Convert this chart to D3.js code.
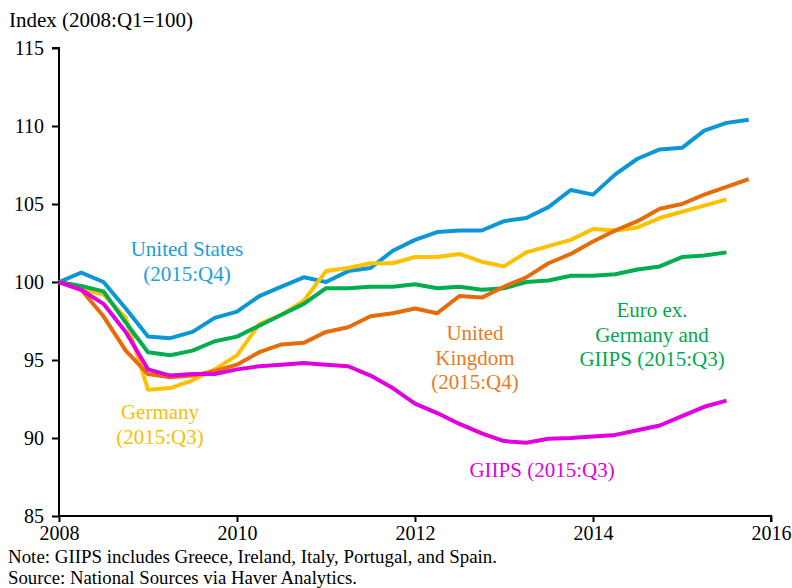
<!DOCTYPE html>
<html>
<head>
<meta charset="utf-8">
<script src="https://cdn.jsdelivr.net/npm/d3@7"></script>
<style>
  body { margin: 0; background: #fff; }
  svg text { font-family: "Times New Roman", "Liberation Serif", "DejaVu Serif", serif; }
</style>
</head>
<body>
<svg id="chart" width="792" height="588"></svg>
<script>
// quarterly data, 2008:Q1 = 100
var startYear = 2008;
var usValues = [100, 100.6, 100.0, 98.3, 96.5, 96.4, 96.8, 97.7, 98.1, 99.1, 99.7, 100.3, 100.0, 100.7, 100.9, 102.0,
  102.7, 103.2, 103.3, 103.3, 103.9, 104.1, 104.8, 105.9, 105.6, 106.9, 107.9, 108.5, 108.6, 109.7, 110.2, 110.4];
var germanyValues = [100, 99.6, 99.2, 97.7, 93.1, 93.2, 93.7, 94.4, 95.3, 97.3, 97.9, 98.8, 100.7, 100.9, 101.2, 101.2,
  101.6, 101.6, 101.8, 101.3, 101.0, 101.9, 102.3, 102.7, 103.4, 103.3, 103.5, 104.1, 104.5, 104.9, 105.3];
var ukValues = [100, 99.5, 97.8, 95.6, 94.1, 93.9, 94.0, 94.3, 94.7, 95.5, 96.0, 96.1, 96.8, 97.1, 97.8, 98.0,
  98.3, 98.0, 99.1, 99.0, 99.7, 100.3, 101.2, 101.8, 102.6, 103.3, 103.9, 104.7, 105.0, 105.6, 106.1, 106.6];
var euroValues = [100, 99.75, 99.4, 97.4, 95.5, 95.3, 95.6, 96.2, 96.5, 97.2, 97.9, 98.6, 99.6, 99.6, 99.7, 99.7,
  99.85, 99.6, 99.7, 99.5, 99.6, 100.0, 100.1, 100.4, 100.4, 100.5, 100.8, 101.0, 101.6, 101.7, 101.9];
var giipsValues = [100, 99.5, 98.6, 96.8, 94.4, 94.0, 94.1, 94.1, 94.4, 94.6, 94.7, 94.8, 94.7, 94.6, 94.0, 93.2,
  92.2, 91.6, 90.9, 90.3, 89.8, 89.7, 89.95, 90.0, 90.1, 90.2, 90.5, 90.8, 91.4, 92.0, 92.4];

var yTicks = [85, 90, 95, 100, 105, 110, 115];
var xTicks = [2008, 2010, 2012, 2014, 2016];

var series = [
  { name: "us", values: usValues, color: "#0b97d6", label: ["United States", "(2015:Q4)"], lx: 187, ly: 256, tcolor: "#1d9ddb" },
  { name: "germany", values: germanyValues, color: "#ffc000", label: ["Germany", "(2015:Q3)"], lx: 160, ly: 419, tcolor: "#f7c000" },
  { name: "euro", values: euroValues, color: "#00ad4f", label: ["Euro ex.", "Germany and", "GIIPS (2015:Q3)"], lx: 652, ly: 317, tcolor: "#00a94e" },
  { name: "uk", values: ukValues, color: "#e46c0a", label: ["United", "Kingdom", "(2015:Q4)"], lx: 475, ly: 340, tcolor: "#e97a1e" },
  { name: "giips", values: giipsValues, color: "#e000e0", label: ["GIIPS (2015:Q3)"], lx: 542, ly: 477, tcolor: "#e000e0" }
];

(function() {
  var svg = d3.select("#chart");
  var mLeft = 59, mRight = 771, mTop = 48, mBottom = 516;

  var x = d3.scaleLinear().domain([2008, 2016]).range([mLeft, mRight]);
  var y = d3.scaleLinear().domain([85, 115]).range([mBottom, mTop]);

  // axes
  var yAxis = d3.axisLeft(y).tickValues(yTicks).tickSize(7).tickPadding(8);
  var gy = svg.append("g").attr("transform", "translate(" + mLeft + ",0)").call(yAxis);
  gy.attr("font-family", null);
  gy.select(".domain").attr("stroke", "#000").attr("stroke-width", 2).attr("d", "M-7," + mTop + "H0V" + mBottom);
  gy.selectAll(".tick line").attr("stroke", "#000").attr("stroke-width", 2);
  gy.selectAll(".tick text").attr("font-size", 20).attr("fill", "#000");

  var xAxis = d3.axisBottom(x).tickValues(xTicks).tickFormat(d3.format("d")).tickSize(6).tickPadding(4);
  var gx = svg.append("g").attr("transform", "translate(0," + mBottom + ")").call(xAxis);
  gx.attr("font-family", null);
  gx.select(".domain").attr("stroke", "#000").attr("stroke-width", 2).attr("d", "M" + mLeft + ",0H" + mRight + "V6");
  gx.selectAll(".tick line").attr("stroke", "#000").attr("stroke-width", 2);
  gx.selectAll(".tick text").attr("font-size", 20).attr("fill", "#000");

  // lines
  var line = d3.line()
    .x(function(d, i) { return x(startYear + i * 0.25); })
    .y(function(d) { return y(d); });

  series.forEach(function(s) {
    svg.append("path")
      .datum(s.values)
      .attr("fill", "none")
      .attr("stroke", s.color)
      .attr("stroke-width", 4)
      .attr("stroke-linejoin", "round")
      .attr("d", line);
  });

  // labels
  series.forEach(function(s) {
    var t = svg.append("text")
      .attr("text-anchor", "middle")
      .attr("font-size", 21)
      .attr("fill", s.tcolor);
    s.label.forEach(function(l, k) {
      t.append("tspan").attr("x", s.lx).attr("y", s.ly + k * 24.5).text(l);
    });
  });

  // titles and notes
  svg.append("text").attr("x", 9).attr("y", 27).attr("font-size", 21).attr("fill", "#000")
    .text("Index (2008:Q1=100)");
  svg.append("text").attr("x", 8).attr("y", 563).attr("font-size", 18).attr("fill", "#000")
    .attr("textLength", 489).attr("lengthAdjust", "spacingAndGlyphs")
    .text("Note: GIIPS includes Greece, Ireland, Italy, Portugal, and Spain.");
  svg.append("text").attr("x", 8).attr("y", 584).attr("font-size", 18).attr("fill", "#000")
    .attr("textLength", 349).attr("lengthAdjust", "spacingAndGlyphs")
    .text("Source: National Sources via Haver Analytics.");
})();
</script>
</body>
</html>
